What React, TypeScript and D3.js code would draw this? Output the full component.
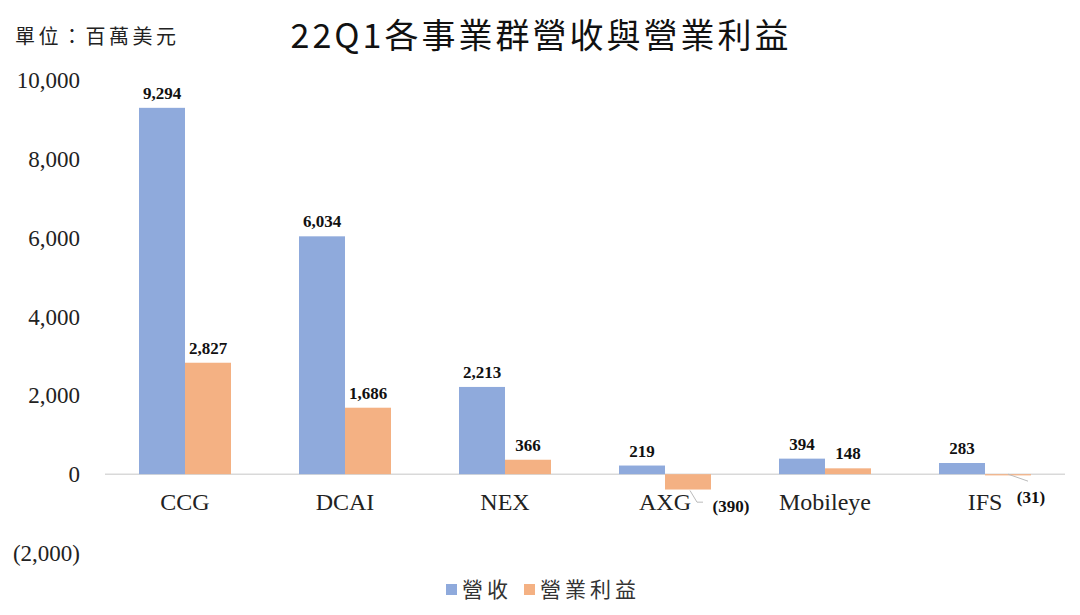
import { useEffect, useRef } from "react";
import * as d3 from "d3";

// chart data
const categories = ["CCG", "DCAI", "NEX", "AXG", "Mobileye", "IFS"];
const revenue = [9294, 6034, 2213, 219, 394, 283];
const operatingIncome = [2827, 1686, 366, -390, 148, -31];
const seriesNames = ["營收", "營業利益"];
const yTicks = [-2000, 0, 2000, 4000, 6000, 8000, 10000];

const W = 1080;
const H = 615;
const margin = { top: 80, right: 15, bottom: 62, left: 105 };
const colors = ["#8faadc", "#f4b183"];
const serif = "'Liberation Serif', 'Times New Roman', serif";
const cjk = "'Noto Sans CJK TC', sans-serif";

const fmt = (v: number) => (v < 0 ? "(" + d3.format(",")(-v) + ")" : d3.format(",")(v));

function drawChart(svg: d3.Selection<SVGSVGElement, unknown, null, undefined>) {
  svg.selectAll("*").remove();

  const x = d3
    .scaleBand()
    .domain(categories)
    .range([margin.left, W - margin.right])
    .paddingInner(0.425)
    .paddingOuter(0.2125);

  const y = d3.scaleLinear().domain([-2000, 10000]).range([H - margin.bottom, margin.top]);

  const inner = d3.scaleBand().domain(["0", "1"]).range([0, x.bandwidth()]);

  // zero line
  svg
    .append("line")
    .attr("x1", margin.left)
    .attr("x2", W - margin.right)
    .attr("y1", y(0))
    .attr("y2", y(0))
    .attr("stroke", "#d9d9d9")
    .attr("stroke-width", 1.5);

  // y axis labels
  svg
    .append("g")
    .selectAll("text")
    .data(yTicks)
    .join("text")
    .attr("x", 80)
    .attr("y", (d) => y(d))
    .attr("dy", "0.35em")
    .attr("text-anchor", "end")
    .style("font-family", serif)
    .style("font-size", "23px")
    .attr("fill", "#222")
    .text(fmt);

  const series = [revenue, operatingIncome];

  series.forEach((vals, si) => {
    const g = svg.append("g");
    g.selectAll("rect")
      .data(vals)
      .join("rect")
      .attr("x", (_d, i) => (x(categories[i]) as number) + (inner(String(si)) as number))
      .attr("width", inner.bandwidth())
      .attr("y", (d) => y(Math.max(0, d)))
      .attr("height", (d) => Math.abs(y(d) - y(0)))
      .attr("fill", colors[si]);

    // value labels
    vals.forEach((d, i) => {
      const cx = (x(categories[i]) as number) + (inner(String(si)) as number) + inner.bandwidth() / 2;
      if (d >= 0) {
        g.append("text")
          .attr("x", cx)
          .attr("y", y(d) - 9)
          .attr("text-anchor", "middle")
          .style("font-family", serif)
          .style("font-weight", "bold")
          .style("font-size", "17px")
          .attr("fill", "#111")
          .text(fmt(d));
      } else {
        // negative values get a label pulled out with a leader line
        const big = d < -100;
        const lx = big ? cx + 43 : cx + 23;
        const ly = big ? y(0) + 32 : y(0) + 23;
        const pts = big
          ? [
              [cx + 2, y(d) + 1],
              [cx + 9, ly - 4],
              [cx + 15, ly - 4],
            ]
          : [
              [cx, y(0)],
              [cx + 20, y(0) + 7],
            ];
        g.append("polyline")
          .attr("points", pts.map((p) => p.join(",")).join(" "))
          .attr("fill", "none")
          .attr("stroke", "#bbb")
          .attr("stroke-width", 1);
        g.append("text")
          .attr("x", lx)
          .attr("y", ly)
          .attr("dy", "0.35em")
          .attr("text-anchor", "middle")
          .style("font-family", serif)
          .style("font-weight", "bold")
          .style("font-size", "17px")
          .attr("fill", "#111")
          .text(fmt(d));
      }
    });
  });

  // category labels
  svg
    .append("g")
    .selectAll("text")
    .data(categories)
    .join("text")
    .attr("x", (d) => (x(d) as number) + x.bandwidth() / 2)
    .attr("y", y(0) + 36)
    .attr("text-anchor", "middle")
    .style("font-family", serif)
    .style("font-size", "24px")
    .attr("fill", "#222")
    .text((d) => d);

  // title + unit
  svg
    .append("text")
    .attr("x", 541)
    .attr("y", 48)
    .attr("text-anchor", "middle")
    .style("font-family", cjk)
    .style("font-size", "34px")
    .style("letter-spacing", "3px")
    .attr("fill", "#111")
    .text("22Q1各事業群營收與營業利益");

  svg
    .append("text")
    .attr("x", 15)
    .attr("y", 44)
    .style("font-family", cjk)
    .style("font-size", "20px")
    .style("letter-spacing", "3.5px")
    .attr("fill", "#222")
    .text("單位：百萬美元");

  // legend
  const legend = svg.append("g").attr("transform", "translate(446,590)");
  const offsets = [0, 78];
  seriesNames.forEach((name, i) => {
    legend
      .append("rect")
      .attr("x", offsets[i])
      .attr("y", -6)
      .attr("width", 11)
      .attr("height", 11)
      .attr("fill", colors[i]);
    legend
      .append("text")
      .attr("x", offsets[i] + 16)
      .attr("y", 0)
      .attr("dy", "0.35em")
      .style("font-family", cjk)
      .style("font-size", "21px")
      .style("letter-spacing", "4px")
      .attr("fill", "#333")
      .text(name);
  });
}

export default function App() {
  const ref = useRef<SVGSVGElement>(null);

  useEffect(() => {
    if (ref.current) drawChart(d3.select(ref.current));
  }, []);

  return (
    <div style={{ margin: -8, width: W, height: H, background: "#fff" }}>
      <svg ref={ref} width={W} height={H} style={{ display: "block" }}></svg>
    </div>
  );
}
